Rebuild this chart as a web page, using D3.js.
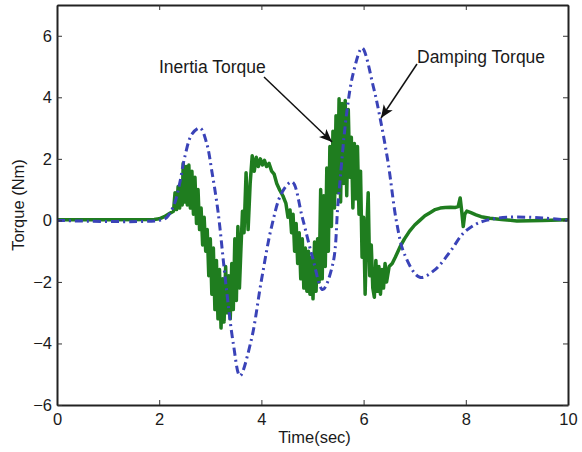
<!DOCTYPE html>
<html>
<head>
<meta charset="utf-8">
<script src="https://cdn.jsdelivr.net/npm/d3@7"></script>
<style>
  body { margin: 0; background: #fff; }
  svg text { font-family: "Liberation Sans", Arial, sans-serif; fill: #1a1a1a; }
</style>
</head>
<body>
<div id="chart"></div>
<script>
// Axis ticks
const xTicks = [0, 2, 4, 6, 8, 10];
const yTicks = [-6, -4, -2, 0, 2, 4, 6];

// Damping torque (blue dash-dot)
const dampTime = [0, 2.0, 2.15, 2.3, 2.4, 2.5, 2.64, 2.8, 2.93, 3.03, 3.15, 3.3, 3.45, 3.58, 3.8, 4.0, 4.2, 4.4, 4.6, 4.8, 5.0, 5.2, 5.4, 5.5, 5.67, 5.8, 5.97, 6.19, 6.32, 6.48, 6.65, 6.8, 7.1, 7.4, 7.7, 7.95, 8.2, 8.4, 8.8, 9.5, 10];
const dampTorque = [0, 0, 0.1, 0.55, 1.2, 2.06, 2.8, 3.0, 2.5, 1.6, 0.3, -2.0, -4.0, -5.05, -3.9, -1.95, -0.2, 0.9, 1.25, 0.1, -1.2, -2.25, -1.4, 0.56, 3.5, 4.8, 5.6, 4.35, 3.35, 1.87, -0.1, -1.1, -1.85, -1.6, -1.0, -0.42, -0.12, 0.0, 0.1, 0.08, 0.0];

// Inertia torque (green, noisy)
const inertiaTime = [
  0, 1.0, 1.9, 2.0, 2.1, 2.2, 2.28, 2.31, 2.34, 2.37, 2.40, 2.43, 2.45, 2.47, 2.50, 2.53, 2.55, 2.58, 2.61, 2.64,
  2.67, 2.70, 2.73, 2.76, 2.79, 2.82, 2.85, 2.88, 2.91, 2.94, 2.97, 3.00, 3.03, 3.06, 3.09, 3.12, 3.15, 3.18, 3.21, 3.24,
  3.27, 3.30, 3.33, 3.36, 3.39, 3.42, 3.45, 3.48, 3.51, 3.54, 3.57, 3.60, 3.63, 3.66, 3.70, 3.74, 3.78, 3.82, 3.86, 3.90,
  3.94, 3.98, 4.02, 4.06, 4.10, 4.15, 4.20, 4.25, 4.30, 4.36, 4.42, 4.48, 4.52, 4.56, 4.59, 4.62, 4.65, 4.68, 4.71, 4.74,
  4.77, 4.80, 4.83, 4.86, 4.89, 4.92, 4.95, 4.98, 5.01, 5.04, 5.07, 5.10, 5.13, 5.16, 5.19, 5.22, 5.25, 5.28, 5.31, 5.34,
  5.37, 5.40, 5.43, 5.46, 5.49, 5.52, 5.55, 5.58, 5.61, 5.64, 5.67, 5.70, 5.73, 5.76, 5.79, 5.82, 5.85, 5.88, 5.91, 5.94,
  5.97, 6.00, 6.03, 6.06, 6.09, 6.12, 6.15, 6.18, 6.21, 6.24, 6.27, 6.30, 6.33, 6.36, 6.39, 6.42, 6.45, 6.50, 6.56, 6.62,
  6.71, 6.80, 6.90, 7.00, 7.10, 7.20, 7.30, 7.40, 7.50, 7.60, 7.70, 7.80, 7.85, 7.89, 7.92, 7.95, 7.98, 8.02, 8.10, 8.20,
  8.30, 8.47, 8.7, 9.0, 9.5, 10
];
const inertiaTorque = [
  0.02, 0.02, 0.03, 0.05, 0.12, 0.22, 0.3, 0.9, 0.35, 1.1, 0.4, 1.3, 0.5, 1.86, 0.6, 1.75, 0.5, 1.8, 0.4, 1.6,
  0.2, 1.4, -0.1, 1.0, -0.3, 0.4, -0.8, 0.1, -1.0, -0.3, -1.8, -0.6, -2.4, -0.9, -2.9, -1.3, -3.2, -1.6, -3.5, -1.9,
  -3.3, -1.5, -3.0, -1.8, -3.2, -1.4, -2.9, -0.6, -2.6, -0.2, -2.2, -0.9, 0.3, -0.4, 1.55, -0.3, 1.2, 2.1, 1.6, 2.05,
  1.75, 2.0, 1.8, 1.95, 1.75, 1.85, 1.6, 1.5, 1.2, 0.98, 0.8, 0.55, 0.1, 0.34, -0.4, 0.2, -1.0, -0.1, -1.4, -0.4,
  -1.9, -0.6, -2.2, -0.9, -2.3, -1.0, -2.4, -1.2, -2.55, -0.7, -2.3, -0.6, -2.0, 1.0, -1.9, 0.8, -1.5, 1.7, -1.0, 2.4,
  -0.2, 2.9, 0.4, 3.4, 0.9, 3.95, 0.6, 3.8, 1.2, 3.9, 0.8, 3.6, 1.4, 2.7, 0.4, 2.5, 0.7, 2.4, 0.2, 1.6,
  -1.2, 0.1, -2.4, -0.4, 0.9, -1.8, -0.8, -2.2, -2.5, -1.3, -2.3, -1.5, -2.4, -1.6, -2.2, -1.4, -2.0, -1.5, -1.4, -1.2,
  -0.87, -0.6, -0.35, -0.15, 0.0, 0.15, 0.25, 0.35, 0.4, 0.42, 0.43, 0.42, 0.45, 0.73, 0.3, -0.2, 0.2, 0.3, 0.25, 0.18,
  0.12, 0.07, 0.03, -0.02, 0.0, 0.02
];

const W = 582, H = 452;
const margin = {left: 57, right: 14, top: 5, bottom: 47};

const svg = d3.select('#chart').append('svg')
  .attr('width', W).attr('height', H);

const x = d3.scaleLinear().domain([0, 10]).range([margin.left, W - margin.right]);
const y = d3.scaleLinear().domain([-6, 7]).range([H - margin.bottom, margin.top]);

svg.append('clipPath').attr('id', 'plot-clip')
  .append('rect')
  .attr('x', x(0)).attr('y', y(7))
  .attr('width', x(10) - x(0)).attr('height', y(-6) - y(7));

const plot = svg.append('g').attr('clip-path', 'url(#plot-clip)');

// Inertia torque first, damping on top
plot.append('path')
  .datum(inertiaTime.map((t, i) => [t, inertiaTorque[i]]))
  .attr('fill', 'none')
  .attr('stroke', '#1f7d1f')
  .attr('stroke-width', 3.5)
  .attr('stroke-linejoin', 'round')
  .attr('d', d3.line().x(d => x(d[0])).y(d => y(d[1])));

plot.append('path')
  .datum(dampTime.map((t, i) => [t, dampTorque[i]]))
  .attr('fill', 'none')
  .attr('stroke', '#3a43b8')
  .attr('stroke-width', 3)
  .attr('stroke-dasharray', '8,4,2,4')
  .attr('d', d3.line().curve(d3.curveCatmullRom.alpha(0.5)).x(d => x(d[0])).y(d => y(d[1])));

// Axes (MATLAB style: ticks inward on all four sides)
const tickLen = 5;
const axisBottom = svg.append('g')
  .attr('transform', `translate(0,${y(-6)})`)
  .call(d3.axisBottom(x).tickValues(xTicks).tickSizeInner(-tickLen).tickSizeOuter(0).tickPadding(8));
const axisTop = svg.append('g')
  .attr('transform', `translate(0,${y(7)})`)
  .call(d3.axisTop(x).tickValues(xTicks).tickSizeInner(-tickLen).tickSizeOuter(0).tickFormat(''));
const axisLeft = svg.append('g')
  .attr('transform', `translate(${x(0)},0)`)
  .call(d3.axisLeft(y).tickValues(yTicks).tickSizeInner(-tickLen).tickSizeOuter(0).tickPadding(5)
    .tickFormat(d => d < 0 ? '\u2212' + Math.abs(d) : d));
const axisRight = svg.append('g')
  .attr('transform', `translate(${x(10)},0)`)
  .call(d3.axisRight(y).tickValues(yTicks).tickSizeInner(-tickLen).tickSizeOuter(0).tickFormat(''));

[axisBottom, axisTop, axisLeft, axisRight].forEach(g => {
  g.select('.domain').attr('stroke', '#222').attr('stroke-width', 2);
  g.selectAll('.tick line').attr('stroke', '#333').attr('stroke-width', 1);
  g.selectAll('.tick text').attr('font-size', 16.5).attr('fill', '#1a1a1a');
});

// Axis labels
svg.append('text')
  .attr('x', x(5) + 2).attr('y', 443)
  .attr('text-anchor', 'middle')
  .attr('font-size', 16.5)
  .text('Time(sec)');

svg.append('text')
  .attr('transform', `translate(24,${y(0.5)}) rotate(-90)`)
  .attr('text-anchor', 'middle')
  .attr('font-size', 16.5)
  .text('Torque (Nm)');

// Annotations with arrows
const defs = svg.append('defs');
defs.append('marker')
  .attr('id', 'arrowhead')
  .attr('viewBox', '0 0 12 10')
  .attr('refX', 12).attr('refY', 5)
  .attr('markerWidth', 13).attr('markerHeight', 11)
  .attr('markerUnits', 'userSpaceOnUse')
  .attr('orient', 'auto')
  .append('path')
  .attr('d', 'M0,0 L12,5 L0,10 L3,5 Z')
  .attr('fill', '#111');

svg.append('text')
  .attr('x', 159).attr('y', 73)
  .attr('font-size', 17.5)
  .text('Inertia Torque');
svg.append('line')
  .attr('x1', 264).attr('y1', 77)
  .attr('x2', 332).attr('y2', 142)
  .attr('stroke', '#111').attr('stroke-width', 1.5)
  .attr('marker-end', 'url(#arrowhead)');

svg.append('text')
  .attr('x', 417).attr('y', 63)
  .attr('font-size', 17.5)
  .text('Damping Torque');
svg.append('line')
  .attr('x1', 417).attr('y1', 64)
  .attr('x2', 381).attr('y2', 118)
  .attr('stroke', '#111').attr('stroke-width', 1.5)
  .attr('marker-end', 'url(#arrowhead)');
</script>
</body>
</html>
